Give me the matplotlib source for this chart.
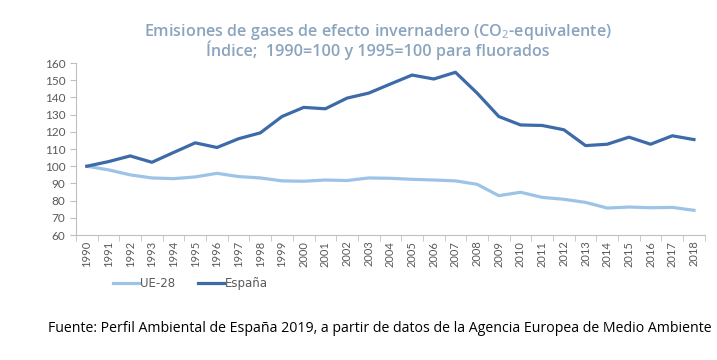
import matplotlib
matplotlib.use("Agg")
import matplotlib.pyplot as plt
import numpy as np

years = [str(y) for y in range(1990, 2019)]
ue28 = [100, 97.9, 95.0, 93.2, 92.8, 93.8, 95.9, 94.0, 93.2, 91.5, 91.3, 92.0, 91.7,
        93.2, 93.0, 92.4, 92.0, 91.5, 89.5, 82.9, 84.9, 81.9, 80.8, 79.0, 75.7,
        76.3, 75.9, 76.1, 74.4]
espana = [100, 102.7, 106.0, 102.3, 108.0, 113.6, 110.9, 116.0, 119.4, 128.9, 134.2,
          133.4, 139.6, 142.5, 147.8, 153.0, 150.7, 154.6, 142.5, 128.9, 124.0, 123.7,
          121.2, 112.0, 112.8, 116.9, 112.8, 117.7, 115.5]

plt.rcParams['mathtext.fontset'] = 'custom'
plt.rcParams['mathtext.rm'] = 'Open Sans'

fig = plt.figure(figsize=(7.17, 3.6), dpi=100)
ax = fig.add_axes([0.106, 0.347, 0.877, 0.478])

x = np.arange(len(years))
ax.plot(x, ue28, color='#9DC3E6', linewidth=2.3, label='UE-28')
ax.plot(x, espana, color='#3D6AA8', linewidth=2.3, label='España')

ax.set_xlim(-0.5, len(years) - 0.5)
ax.set_ylim(60, 160)
ax.set_yticks(range(60, 161, 10))
ax.set_xticks(x)
ax.set_xticklabels(years, rotation=90, fontsize=8, color='#595959', family='Lato')
ax.set_xticks(np.arange(-0.5, len(years), 1), minor=True)
ax.tick_params(axis='x', which='major', length=0, pad=4)
ax.tick_params(axis='x', which='minor', length=4, color='#BFBFBF')
ax.tick_params(axis='y', length=4, color='#BFBFBF', labelsize=8.5, labelcolor='#595959')
for lab in ax.get_yticklabels():
    lab.set_family('Lato')

for s in ['top', 'right']:
    ax.spines[s].set_visible(False)
for s in ['left', 'bottom']:
    ax.spines[s].set_color('#BFBFBF')

fig.text(0.527, 0.91, 'Emisiones de gases de efecto invernadero (CO$_2$-equivalente)',
         ha='center', va='center', fontsize=11.6, color='#8AA4BE', family='Open Sans',
         fontweight='semibold')
fig.text(0.527, 0.86, 'Índice;  1990=100 y 1995=100 para fluorados',
         ha='center', va='center', fontsize=11.6, color='#8AA4BE', family='Open Sans',
         fontweight='semibold')

leg = fig.legend(loc='center left', bbox_to_anchor=(0.143, 0.213), ncol=2, frameon=False,
                 handlelength=2.2, handletextpad=0.1, columnspacing=1.9,
                 prop={'family': 'Liberation Sans Narrow', 'size': 8.5})
for t in leg.get_texts():
    t.set_color('#595959')

fig.text(0.993, 0.087, 'Fuente: Perfil Ambiental de España 2019, a partir de datos de la Agencia Europea de Medio Ambiente',
         ha='right', va='center', fontsize=10.15, color='black', family='Open Sans')

fig.savefig('out.png', dpi=100)
